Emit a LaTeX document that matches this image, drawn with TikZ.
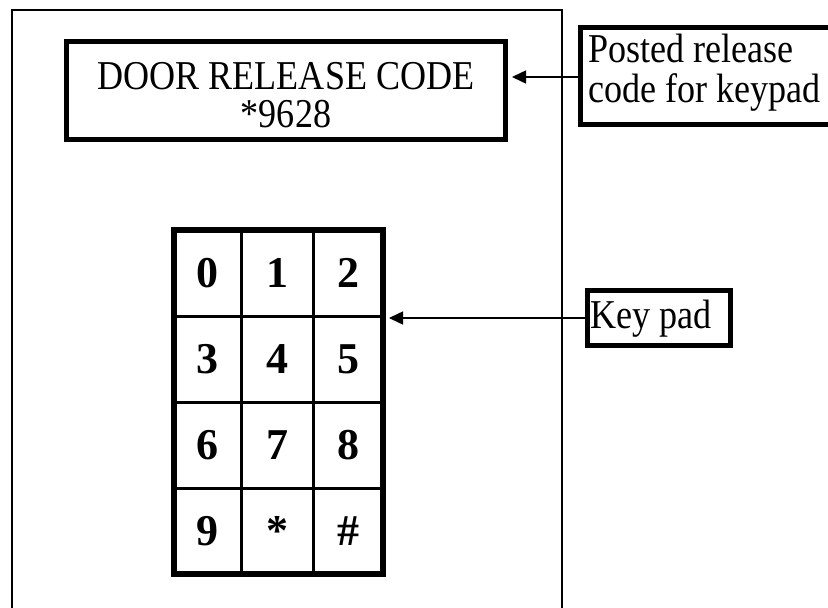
\documentclass[tikz,border=0pt]{standalone}
\usepackage{fontspec}
\setmainfont{Liberation Serif}
\newfontfamily\lblfont{Liberation Serif}[FakeStretch=0.88]
\usetikzlibrary{arrows.meta}
\begin{document}
\begin{tikzpicture}[x=1pt,y=-1pt,
  thickbox/.style={draw,line width=5pt,rectangle,inner sep=0pt},
  cell/.style={draw,line width=3pt,minimum height=86pt,inner sep=0pt,font=\fontsize{44}{44}\selectfont\bfseries},
  pointer/.style={draw,line width=1.5pt,-{Triangle[length=14pt,width=13pt]}},
  lbl/.style={inner sep=0pt,font=\lblfont\fontsize{41}{41}\selectfont}]
\useasboundingbox (0,0) rectangle (828,608);
\fill[white] (0,0) rectangle (828,608);
\draw[line width=1.5pt] (12,608) -- (12,10) -- (562,10) -- (562,608);
% posted code sign
\node[thickbox, minimum width=439pt, minimum height=98pt] (door) at (286,90.5) {};
\node[lbl, anchor=base] (doorl1) at (286,89) {DOOR RELEASE CODE};
\node[lbl, anchor=base] (doorl2) at (286,127) {*9628};
% labels
\node[thickbox, minimum width=262pt, minimum height=97pt] (post) at (711.5,76) {};
\node[lbl, anchor=base west] (postl1) at (588,62) {Posted release};
\node[lbl, anchor=base west] (postl2) at (588,102) {code for keypad};
\node[thickbox, minimum width=143pt, minimum height=55pt] (key) at (659,318) {};
\node[lbl, anchor=base west] (keyl) at (590,328) {Key pad};
% keypad cells
\node[cell, minimum width=67pt] (k0) at (207.5,273) {0};
\node[cell, minimum width=72pt] (k1) at (277,273) {1};
\node[cell, minimum width=70pt] (k2) at (348,273) {2};
\node[cell, minimum width=67pt] (k3) at (207.5,359) {3};
\node[cell, minimum width=72pt] (k4) at (277,359) {4};
\node[cell, minimum width=70pt] (k5) at (348,359) {5};
\node[cell, minimum width=67pt] (k6) at (207.5,445) {6};
\node[cell, minimum width=72pt] (k7) at (277,445) {7};
\node[cell, minimum width=70pt] (k8) at (348,445) {8};
\node[cell, minimum width=67pt] (k9) at (207.5,531) {9};
\node[cell, minimum width=72pt] (kstar) at (277,531) {*};
\node[cell, minimum width=70pt] (khash) at (348,531) {\#};
\node[draw, line width=6pt, minimum width=209pt, minimum height=344pt, inner sep=0pt] (pad) at (278.5,402) {};
% connectors
\draw[pointer, shorten >=4pt] (post.west |- 0,77) -- (door.east |- 0,77);
\draw[pointer, shorten >=3pt] (key.west) -- (key.west -| pad.east);
\end{tikzpicture}
\end{document}
